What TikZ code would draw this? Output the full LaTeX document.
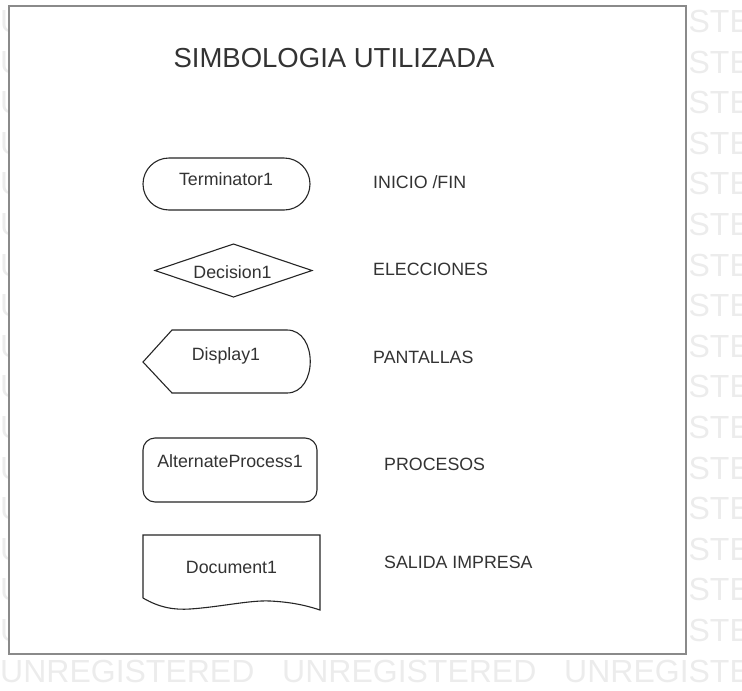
\documentclass[tikz,border=0pt]{standalone}
\usepackage{fontspec}
\setmainfont{Liberation Sans}
\definecolor{ink}{HTML}{333333}
\definecolor{wmgray}{HTML}{ECECEC}
\definecolor{framegray}{HTML}{8A8A8A}

\begin{document}
\begin{tikzpicture}[x=1pt, y=-1pt,
    sym/.style = {draw=black!85, line width=1.1pt},
    txt/.style = {inner sep=0, text=ink, font=\fontsize{17.8}{20}\selectfont},
    lbl/.style = {txt, anchor=base west},
    wmark/.style = {inner sep=0, anchor=base west, text=wmgray, font=\fontsize{32}{34}\selectfont}]
    \useasboundingbox (0,0) rectangle (742,691);

    % watermark: only the bits that show beside the sheet
    \foreach \k in {1,...,16} {
        \node[wmark] (wmL\k) at (0, {682-40.6*\k}) {U};
        \node[wmark] (wmR\k) at (564, {682-40.6*\k}) {UNREGISTE};
    }
    \foreach \wx in {0,282,564}
        \node[wmark] (wmB\wx) at (\wx, 682) {UNREGISTERED};

    \draw[framegray, line width=2.5pt, fill=white] (9,6) rectangle (686,654);

    \node[inner sep=0, anchor=base, text=ink, font=\fontsize{27.5}{30}\selectfont] (title) at (334,67) {SIMBOLOGIA UTILIZADA};

    % symbols
    \draw[sym, rounded corners=26pt] (143,158) rectangle (310,210);
    \draw[sym] (155,270.5) -- (233.5,244) -- (312,270.5) -- (233.5,297) -- cycle;
    \draw[sym] (143,362) -- (172,330) -- (287,330) .. controls (318,330) and (318,393) .. (287,393) -- (172,393) -- cycle;
    \draw[sym, rounded corners=12pt] (143,438) rectangle (317,502);
    \draw[sym] (143,598) -- (143,535) -- (320,535) -- (320,610)
      .. controls (305,605) and (290,602) .. (270,601)
      .. controls (250,600) and (220,607) .. (190,609)
      .. controls (175,610) and (160,608) .. (143,598);

    \node[txt, anchor=base] (term) at (226,185) {Terminator1};
    \node[txt, anchor=base] (dec) at (232.5,278) {Decision1};
    \node[txt, anchor=base] (disp) at (226,360) {Display1};
    \node[txt, anchor=base] (alt) at (230,467) {AlternateProcess1};
    \node[txt, anchor=base] (doc) at (231.5,573) {Document1};

    % meanings
    \node[lbl] (inicio) at (373,188) {INICIO /FIN};
    \node[lbl] (elec) at (373,275) {ELECCIONES};
    \node[lbl] (pant) at (373,363) {PANTALLAS};
    \node[lbl] (proc) at (384,470) {PROCESOS};
    \node[lbl] (salida) at (384,568) {SALIDA IMPRESA};
\end{tikzpicture}
\end{document}
